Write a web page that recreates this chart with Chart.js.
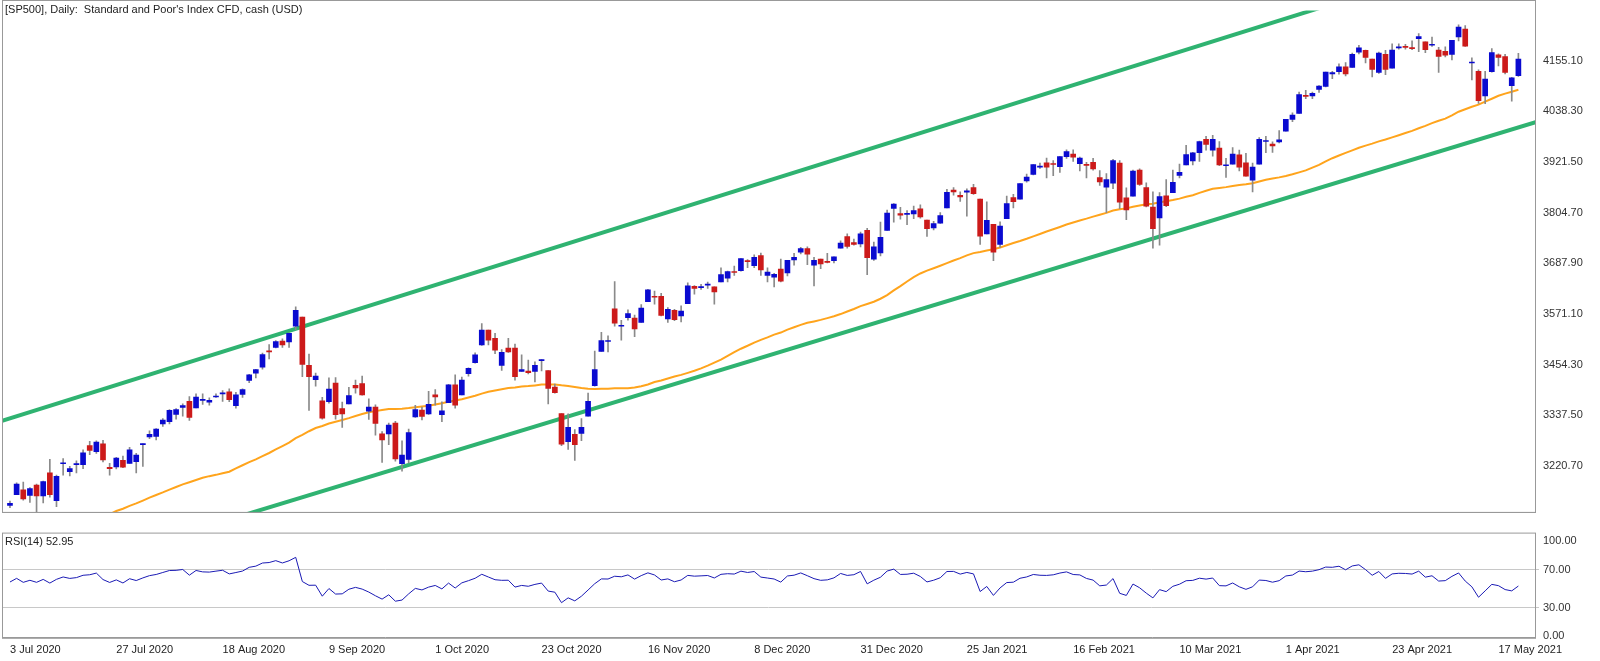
<!DOCTYPE html>
<html><head><meta charset="utf-8">
<script src="https://cdn.jsdelivr.net/npm/chart.js@4.4.1/dist/chart.umd.min.js"></script>
<style>
html,body{margin:0;padding:0;background:#fff;width:1600px;height:661px;overflow:hidden}
#m{position:absolute;left:0;top:0;width:1600px;height:523px}
#r{position:absolute;left:0;top:523px;width:1600px;height:138px}
</style></head><body>
<div id="m"><canvas id="cm" width="1600" height="523"></canvas></div>
<div id="r"><canvas id="cr" width="1600" height="138"></canvas></div>
<script>
const dates=["3 Jul 2020","27 Jul 2020","18 Aug 2020","9 Sep 2020","1 Oct 2020","23 Oct 2020","16 Nov 2020","8 Dec 2020","31 Dec 2020","25 Jan 2021","16 Feb 2021","10 Mar 2021","1 Apr 2021","23 Apr 2021","17 May 2021"];
const priceTicks=[3220.70,3337.50,3454.30,3571.10,3687.90,3804.70,3921.50,4038.30,4155.10];
const priorCloses=[2837,2878,2863,2939,2912,2831,2842,2868,2849,2882,2930,2930,2870,2820,2852,2864,2954,2923,2971,2948,2955,2992,3036,3030,3044,3056,3081,3123,3112,3194,3232,3207,3190,3002,3041,3067,3125,3113,3115,3098,3118,3131,3050,3084,3009,3053,3100,3116,3130];
const opens=[3130,3155,3166,3153,3177,3152,3205,3141,3226,3208,3224,3224,3268,3254,3272,3218,3219,3234,3227,3231,3270,3288,3289,3318,3323,3340,3356,3370,3355,3372,3368,3380,3387,3392,3360,3386,3418,3435,3449,3486,3494,3509,3507,3543,3564,3453,3420,3371,3369,3412,3353,3364,3407,3411,3347,3357,3295,3295,3320,3226,3236,3334,3350,3341,3385,3339,3367,3408,3385,3434,3459,3500,3534,3515,3453,3493,3493,3439,3440,3439,3464,3441,3403,3342,3277,3294,3296,3336,3406,3485,3508,3583,3543,3563,3562,3552,3600,3611,3612,3560,3580,3567,3595,3635,3632,3638,3634,3645,3654,3669,3671,3694,3683,3706,3660,3656,3675,3666,3696,3714,3722,3684,3698,3693,3694,3723,3750,3736,3733,3764,3698,3712,3764,3815,3803,3801,3802,3814,3788,3770,3781,3816,3857,3845,3852,3863,3836,3756,3778,3732,3791,3840,3836,3878,3893,3910,3920,3917,3911,3934,3940,3918,3915,3921,3886,3864,3873,3919,3839,3843,3903,3863,3818,3793,3844,3851,3891,3915,3924,3943,3974,3949,3954,3913,3917,3938,3920,3880,3917,3969,3963,3968,3993,4020,4034,4075,4074,4089,4096,4125,4130,4141,4140,4175,4179,4159,4128,4170,4138,4185,4188,4185,4206,4199,4191,4180,4177,4170,4210,4228,4150,4131,4074,4130,4169,4165,4098,4121];
const highs=[3140,3182,3184,3171,3179,3186,3236,3200,3238,3220,3233,3258,3278,3279,3280,3227,3241,3244,3264,3250,3272,3302,3307,3330,3351,3353,3364,3381,3387,3387,3378,3387,3395,3399,3391,3399,3432,3444,3481,3501,3510,3514,3528,3588,3564,3479,3435,3379,3424,3425,3368,3402,3419,3428,3376,3362,3300,3320,3324,3279,3306,3361,3357,3393,3397,3369,3409,3431,3426,3447,3482,3549,3534,3527,3489,3515,3502,3477,3465,3461,3466,3441,3410,3342,3341,3305,3330,3389,3486,3529,3521,3646,3557,3581,3569,3593,3628,3624,3619,3586,3582,3590,3643,3637,3640,3645,3634,3678,3670,3682,3699,3697,3708,3712,3678,3665,3698,3695,3711,3725,3726,3702,3698,3711,3703,3740,3756,3744,3760,3769,3737,3783,3811,3826,3817,3810,3820,3823,3788,3785,3805,3859,3863,3853,3860,3870,3836,3830,3778,3784,3843,3847,3872,3894,3916,3919,3931,3925,3934,3950,3950,3933,3921,3930,3902,3895,3928,3925,3862,3903,3906,3874,3853,3851,3881,3903,3917,3960,3944,3970,3981,3983,3969,3930,3955,3949,3942,3919,3978,3981,3968,3994,4020,4035,4083,4087,4083,4098,4129,4131,4148,4151,4173,4191,4180,4159,4175,4179,4194,4194,4193,4201,4218,4199,4210,4186,4187,4202,4238,4236,4162,4134,4131,4183,4171,4170,4117,4172];
const lows=[3125,3155,3142,3137,3115,3136,3149,3127,3200,3198,3205,3215,3247,3250,3230,3200,3214,3217,3227,3205,3220,3284,3281,3312,3318,3329,3336,3326,3355,3363,3361,3379,3370,3369,3354,3379,3413,3424,3444,3468,3493,3494,3494,3535,3427,3349,3405,3329,3366,3329,3310,3364,3389,3384,3328,3292,3229,3270,3232,3209,3228,3333,3327,3340,3361,3323,3367,3354,3385,3428,3458,3499,3500,3480,3441,3483,3419,3439,3433,3415,3440,3364,3389,3268,3259,3234,3279,3336,3405,3485,3484,3543,3511,3557,3519,3552,3600,3594,3567,3552,3556,3553,3595,3617,3628,3630,3594,3645,3645,3660,3670,3678,3678,3660,3645,3634,3645,3659,3684,3710,3685,3636,3676,3689,3689,3723,3723,3730,3726,3662,3695,3705,3764,3783,3790,3777,3791,3792,3750,3765,3780,3816,3845,3831,3797,3847,3732,3756,3694,3725,3791,3816,3836,3875,3892,3907,3885,3890,3898,3930,3923,3901,3885,3903,3868,3805,3860,3814,3789,3843,3868,3818,3723,3730,3819,3851,3885,3915,3915,3923,3949,3935,3913,3886,3917,3901,3889,3853,3917,3943,3944,3966,3993,4015,4034,4068,4068,4082,4095,4114,4124,4120,4140,4171,4150,4118,4126,4123,4138,4182,4182,4181,4176,4174,4188,4128,4164,4157,4201,4188,4111,4057,4056,4129,4143,4125,4062,4119];
const closes=[3135,3179,3145,3169,3152,3185,3155,3197,3226,3215,3224,3251,3257,3276,3235,3215,3239,3218,3258,3246,3271,3294,3306,3327,3349,3351,3360,3333,3380,3373,3372,3381,3389,3374,3385,3397,3431,3443,3478,3484,3508,3500,3527,3580,3455,3427,3428,3331,3398,3339,3341,3383,3401,3385,3357,3319,3281,3315,3237,3246,3298,3351,3335,3363,3380,3348,3408,3361,3419,3446,3477,3534,3511,3488,3483,3484,3427,3443,3436,3453,3465,3400,3390,3271,3310,3270,3310,3370,3443,3510,3509,3550,3545,3572,3537,3585,3627,3610,3568,3582,3558,3578,3636,3630,3634,3638,3622,3662,3669,3667,3699,3692,3702,3673,3668,3663,3647,3695,3702,3722,3709,3695,3687,3690,3703,3735,3727,3732,3756,3701,3726,3748,3804,3825,3799,3801,3810,3795,3768,3780,3798,3852,3853,3841,3855,3849,3751,3787,3714,3774,3826,3830,3872,3887,3916,3911,3910,3916,3934,3946,3933,3931,3914,3906,3876,3881,3925,3829,3811,3901,3870,3820,3768,3842,3821,3875,3898,3939,3943,3969,3962,3974,3915,3913,3940,3910,3889,3910,3974,3971,3959,3973,4020,4030,4077,4073,4080,4097,4129,4128,4141,4125,4170,4185,4163,4135,4173,4135,4180,4187,4186,4183,4211,4181,4193,4165,4168,4202,4233,4189,4152,4063,4113,4174,4163,4128,4116,4159];
const channelTop=[[-1.2,3325],[240,4483]];
const channelBottom=[[20,3037],[240,4062]];

const N=closes.length;
const all=priorCloses.concat(closes);
const P=priorCloses.length;
const ma=[];
for(let i=0;i<N;i++){let s=0;for(let k=0;k<50;k++)s+=all[P+i-k];ma.push({x:i,y:s/50});}
const rsiAll=[];let ag=0,al=0;
for(let i=1;i<=14;i++){const d=all[i]-all[i-1];if(d>0)ag+=d;else al-=d;}
ag/=14;al/=14;
for(let i=15;i<all.length;i++){const d=all[i]-all[i-1];ag=(ag*13+Math.max(d,0))/14;al=(al*13+Math.max(-d,0))/14;rsiAll[i]=100-100/(1+ag/al);}
const rsi=closes.map((c,i)=>({x:i,y:rsiAll[P+i]}));

const up='#0a0ad0',dn='#cc1a1a';
const bodyCol=closes.map((c,i)=>c>=opens[i]?up:dn);
const FONT='"Liberation Sans", Arial, sans-serif';
const XMIN=-1.2,XMAX=229.5;
const fixW=function(ax){ax.width=65;};
Chart.defaults.font.family=FONT;Chart.defaults.font.size=11;Chart.defaults.color='#222';

new Chart(document.getElementById('cm'),{
 type:'line',
 data:{datasets:[
  {data:channelTop.map(p=>({x:p[0],y:p[1]})),borderColor:'#2fb371',borderWidth:4,pointRadius:0,order:5},
  {data:channelBottom.map(p=>({x:p[0],y:p[1]})),borderColor:'#2fb371',borderWidth:4,pointRadius:0,order:5},
  {data:ma,borderColor:'#ffa41c',borderWidth:2,pointRadius:0,tension:0,order:4},
  {type:'bar',data:closes.map((c,i)=>({x:i,y:[lows[i],highs[i]]})),backgroundColor:'#8a8a8a',barThickness:1,grouped:false,order:3},
  {type:'bar',data:closes.map((c,i)=>({x:i,y:[opens[i],c]})),backgroundColor:bodyCol,borderWidth:0,barThickness:5,minBarLength:1,grouped:false,order:2}
 ]},
 options:{responsive:false,animation:false,
  layout:{padding:{left:2,top:0,bottom:0,right:0}},
  plugins:{legend:{display:false},tooltip:{enabled:false}},
  scales:{
   x:{type:'linear',min:XMIN,max:XMAX,offset:false,display:true,grid:{display:false},ticks:{display:false},border:{display:true,color:'#999'}},
   y:{position:'right',min:3113.9,max:4270.8,afterFit:fixW,
      afterBuildTicks:ax=>{ax.ticks=priceTicks.map(v=>({value:v}));},
      ticks:{callback:v=>v.toFixed(2),color:'#333',padding:4},
      grid:{display:false,drawTicks:true,tickLength:4},border:{display:true,color:'#888'}}
  }},
 plugins:[{id:'frame',afterDraw(c){const g=c.ctx,a=c.chartArea;g.save();g.strokeStyle='#999';g.lineWidth=1;
   g.strokeRect(a.left+0.5,0.5,a.right-a.left,a.bottom-0.5);
   g.fillStyle='#222';g.font='11px '+FONT;g.textBaseline='top';
   g.fillText("[SP500], Daily:  Standard and Poor's Index CFD, cash (USD)",a.left+3,4);g.restore();}}]
});

new Chart(document.getElementById('cr'),{
 type:'line',
 data:{datasets:[{data:rsi,borderColor:'#1a1ab4',borderWidth:1,pointRadius:0,tension:0}]},
 options:{responsive:false,animation:false,
  layout:{padding:{left:2,top:3,bottom:2,right:0}},
  plugins:{legend:{display:false},tooltip:{enabled:false}},
  scales:{
   x:{type:'linear',min:XMIN,max:XMAX,offset:false,
      afterBuildTicks:ax=>{ax.ticks=dates.map((d,k)=>({value:k*16}));},
      ticks:{callback:(v,k)=>dates[k],align:'start',maxRotation:0,autoSkip:false,color:'#222',padding:2},
      grid:{display:false,drawTicks:true,tickLength:4},border:{display:true,color:'#999'}},
   y:{position:'right',min:-2,max:108,afterFit:fixW,
      afterBuildTicks:ax=>{ax.ticks=[0,30,70,100].map(v=>({value:v}));},
      ticks:{callback:v=>v.toFixed(2),color:'#333',padding:4},
      grid:{color:c=>(c.tick&&(c.tick.value===30||c.tick.value===70))?'#c8c8c8':'rgba(0,0,0,0)',borderDash:[3,3],drawTicks:true,tickLength:4},
      border:{display:true,color:'#888'}}
  }},
 plugins:[{id:'frame2',afterDraw(c){const g=c.ctx,a=c.chartArea;g.save();g.strokeStyle='#999';g.lineWidth=1;
   g.strokeRect(a.left+0.5,a.top-0.5,a.right-a.left,a.bottom-a.top+1);
   g.fillStyle='#222';g.font='11px '+FONT;g.textBaseline='top';
   g.fillText("RSI(14) 52.95",a.left+3,a.top+3);g.restore();}}]
});
</script></body></html>
